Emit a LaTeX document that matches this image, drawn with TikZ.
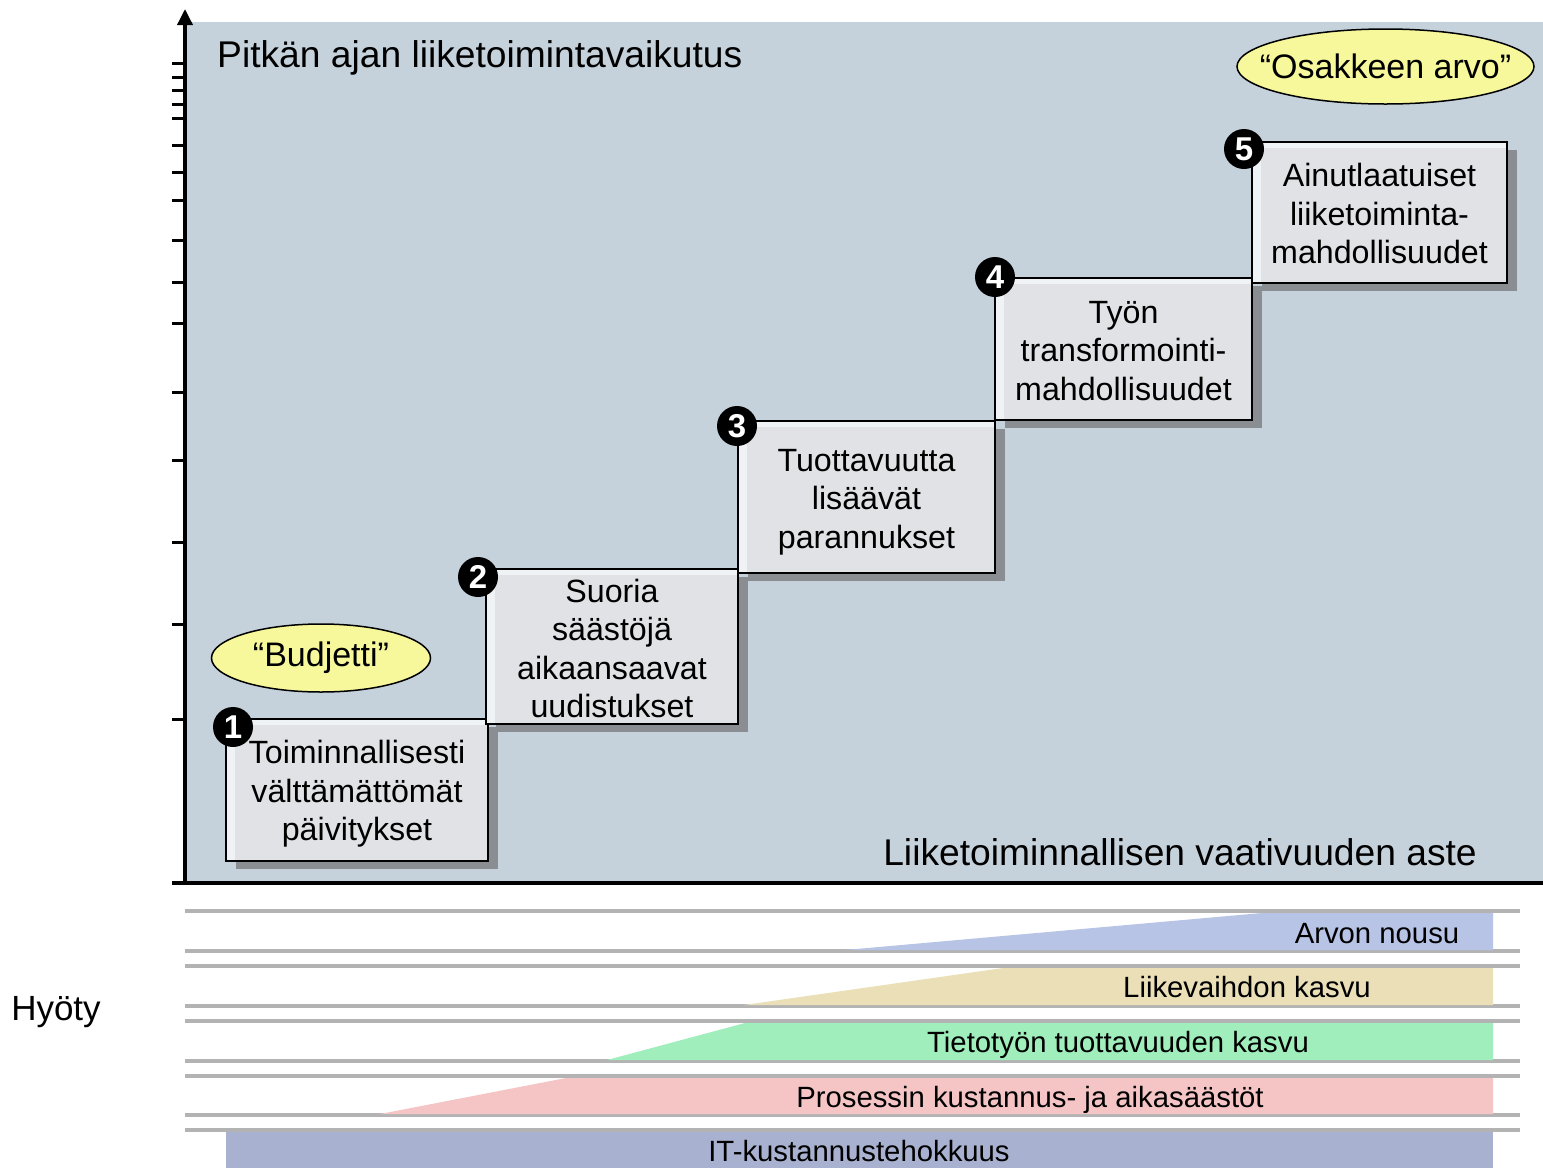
\documentclass[tikz,border=0pt]{standalone}
\usepackage{fontspec}
\setmainfont{Liberation Sans}
\usetikzlibrary{arrows.meta,shapes.geometric,shadows}
\definecolor{panel}{HTML}{C5D2DC}
\definecolor{boxfill}{HTML}{E0E2E5}
\definecolor{boxhi}{HTML}{F0F3F6}
\definecolor{shadowgray}{HTML}{8A8E93}
\definecolor{ellfill}{HTML}{F7F79C}
\definecolor{bandline}{HTML}{B3B3B3}
\definecolor{bandblue}{HTML}{B8C4E6}
\definecolor{bandbeige}{HTML}{EADFB7}
\definecolor{bandgreen}{HTML}{A0EEBB}
\definecolor{bandpink}{HTML}{F5C5C5}
\definecolor{bandit}{HTML}{A8B2D0}
\begin{document}
\begin{tikzpicture}[x=1pt,y=-1pt,
  stepbox/.style 2 args={draw=black, line width=2pt, fill=boxfill, inner sep=0pt,
    minimum width=#1pt, minimum height=#2pt,
    drop shadow={shadow xshift=10pt, shadow yshift=-8pt, fill=shadowgray, opacity=1},
    path picture={\fill[boxhi] (path picture bounding box.north west) rectangle ([xshift=9pt]path picture bounding box.south west);
      \fill[boxhi] (path picture bounding box.north west) rectangle ([yshift=-6pt]path picture bounding box.north east);}},
  steptext/.style={align=center, inner sep=0pt, font=\fontsize{32.2}{38.5}\selectfont},
  numdot/.style={circle, fill=black, minimum size=40pt, inner sep=0pt, text=white,
    font=\bfseries\fontsize{33}{33}\selectfont},
  quoteshape/.style={draw=black, line width=1.5pt, fill=ellfill},
  quotetext/.style={inner sep=0pt, font=\fontsize{34}{40}\selectfont},
  axisline/.style={line width=3.5pt, black},
  tickline/.style={line width=3pt, black},
  bandsep/.style={line width=4pt, bandline},
  bandlabel/.style={font=\fontsize{29.3}{33}\selectfont, inner sep=0pt, anchor=base},
  biglabel/.style={font=\fontsize{37.2}{44}\selectfont, inner sep=0pt}
]
\useasboundingbox (0,0) rectangle (1543,1168);
\fill[white] (0,0) rectangle (1543,1168);
% panel
\fill[panel] (187,22) rectangle (1543,883);
% ticks
\foreach \ty in {63,77.5,90.7,104.5,118,145.3,172.7,200,240.7,282.3,323.3,392,460,542.5,624,719.3,883}
  \draw[tickline] (172,\ty) -- (185,\ty);
% axes
\coordinate (origin) at (185,883);
\coordinate (ytop) at (185,9);
\coordinate (xleft) at (172,883);
\coordinate (xright) at (1543,883);
\draw[axisline, -{Triangle[length=16pt,width=15pt]}] (origin) -- (ytop);
\draw[axisline] (xleft) -- (xright);
% titles
\node[biglabel, anchor=base west] (ytitle) at (217,67) {Pitkän ajan liiketoimintavaikutus};
\node[biglabel, anchor=base east] (xtitle) at (1477,865) {Liiketoiminnallisen vaativuuden aste};
% ellipses
\coordinate (budgetc) at (321,658);
\coordinate (sharec) at (1385.5,66.5);
\filldraw[quoteshape] (budgetc) ellipse [x radius=109.5, y radius=34];
\filldraw[quoteshape] (sharec) ellipse [x radius=148.5, y radius=37.5];
\node[quotetext] (budget) at (budgetc) {“Budjetti”};
\node[quotetext] (share) at (sharec) {“Osakkeen arvo”};
% step boxes
\node[stepbox={262}{142}] (b1) at (357,790) {};
\node[steptext] (t1) at ([yshift=-4pt]b1.center) {Toiminnallisesti\\välttämättömät\\päivitykset};
\node[stepbox={252}{155}] (b2) at (612,646.5) {};
\node[steptext] (t2) at ([yshift=-2pt]b2.center) {Suoria\\säästöjä\\aikaansaavat\\uudistukset};
\node[stepbox={257}{152}] (b3) at (866.5,497) {};
\node[steptext] (t3) at ([yshift=-5pt]b3.center) {Tuottavuutta\\lisäävät\\parannukset};
\node[stepbox={257}{142}] (b4) at (1123.5,349) {};
\node[steptext] (t4) at ([yshift=-2pt]b4.center) {Työn\\transformointi-\\mahdollisuudet};
\node[stepbox={255}{141}] (b5) at (1379.5,212.5) {};
\node[steptext] (t5) at ([yshift=-1pt]b5.center) {Ainutlaatuiset\\liiketoiminta-\\mahdollisuudet};
% numbers
\node[numdot] (n1) at (233,727) {1};
\node[numdot] (n2) at (478,577) {2};
\node[numdot] (n3) at (737,426) {3};
\node[numdot] (n4) at (995,277) {4};
\node[numdot] (n5) at (1244,149) {5};
% bands
\foreach \ly in {911,951,966,1006,1021,1061,1076,1115,1130}
  \draw[bandsep] (185,\ly) -- (1520,\ly);
\fill[bandblue] (845,950) -- (1262,913) -- (1493,913) -- (1493,950) -- cycle;
\fill[bandbeige] (744,1005) -- (1003,968) -- (1493,968) -- (1493,1005) -- cycle;
\fill[bandgreen] (607,1060) -- (745,1023) -- (1493,1023) -- (1493,1060) -- cycle;
\fill[bandpink] (380,1114) -- (566,1078) -- (1493,1078) -- (1493,1114) -- cycle;
\fill[bandit] (226,1132) rectangle (1493,1168);
\node[bandlabel] (l1) at (1377,943.5) {Arvon nousu};
\node[bandlabel] (l2) at (1247,997.5) {Liikevaihdon kasvu};
\node[bandlabel] (l3) at (1118,1052.5) {Tietotyön tuottavuuden kasvu};
\node[bandlabel] (l4) at (1030,1107.5) {Prosessin kustannus- ja aikasäästöt};
\node[bandlabel] (l5) at (859,1161.5) {IT-kustannustehokkuus};
\node[font=\fontsize{35}{40}\selectfont, inner sep=0pt] (hyoty) at (56,1012) {Hyöty};
\end{tikzpicture}
\end{document}
